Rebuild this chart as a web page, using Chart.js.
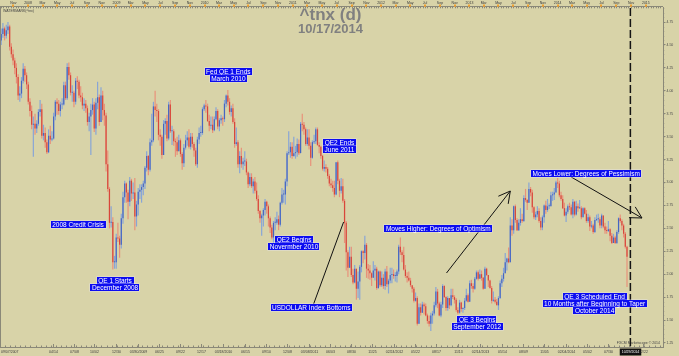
<!DOCTYPE html>
<html><head><meta charset="utf-8">
<script src="https://cdn.jsdelivr.net/npm/chart.js@4.4.1/dist/chart.umd.min.js"></script>
<style>html,body{margin:0;padding:0;background:#d8d3a8;}canvas{display:block}</style>
</head><body>
<canvas id="c" width="679" height="356"></canvas>
<script>
// ---- weekly candles (week ending Friday) ----
const firstWeekEnding = '2007-09-07';
const weekOpen = [
4.50,4.55,4.62,4.68,4.60,4.66,4.70,4.48,4.40,4.33,4.25,4.15,3.95,3.97,4.11,4.24,4.17,
4.07,3.88,3.78,3.63,3.64,3.59,3.64,3.77,3.80,3.51,3.54,3.44,3.33,3.51,3.47,3.48,3.72,3.88,3.86,3.78,3.85,3.85,4.06,3.92,4.26,4.17,3.98,3.98,3.88,4.11,4.10,3.95,3.93,3.84,3.86,3.81,3.66,3.72,3.79,3.85,3.59,3.87,3.93,3.66,3.95,3.79,3.73,3.20,2.93,2.56,2.57,2.13,
2.13,2.40,2.39,2.32,2.61,2.84,2.99,2.89,2.79,3.02,2.88,2.89,2.63,2.76,2.90,2.92,2.95,2.99,3.16,3.29,3.14,3.44,3.46,3.83,3.79,3.78,3.52,3.50,3.30,3.64,3.67,3.48,3.85,3.56,3.56,3.45,3.44,3.34,3.46,3.31,3.21,3.38,3.46,3.49,3.39,3.50,3.42,3.35,3.20,3.47,3.54,3.54,
3.80,3.84,3.83,3.67,3.62,3.63,3.57,3.69,3.78,3.61,3.68,3.70,3.69,3.86,3.95,3.88,3.77,3.81,3.66,3.42,3.44,3.20,3.29,3.20,3.23,3.23,3.11,2.98,3.06,2.96,3.01,2.91,2.82,2.69,2.61,2.64,2.70,2.79,2.74,2.61,2.51,2.40,2.56,2.56,2.60,2.54,2.78,2.87,2.87,3.01,3.32,3.33,3.39,
3.29,3.32,3.33,3.42,3.32,3.64,3.63,3.58,3.42,3.49,3.40,3.27,3.44,3.45,3.58,3.41,3.39,3.29,3.15,3.17,3.15,3.07,2.99,2.97,2.94,2.87,3.22,3.02,2.91,2.96,2.80,2.56,2.24,2.07,2.19,1.99,1.91,2.06,1.84,1.92,2.08,2.25,2.23,2.32,2.06,2.04,2.01,1.96,2.04,2.06,1.85,2.03,
1.88,1.96,1.87,2.03,1.89,1.93,1.99,2.00,1.98,1.98,2.03,2.30,2.24,2.21,2.05,1.98,1.96,1.93,1.88,1.84,1.71,1.74,1.46,1.64,1.58,1.67,1.65,1.55,1.49,1.46,1.55,1.57,1.66,1.81,1.68,1.55,1.67,1.87,1.75,1.63,1.74,1.66,1.77,1.75,1.72,1.61,1.58,1.69,1.62,1.63,1.71,1.77,
1.70,1.90,1.87,1.84,1.95,2.02,1.95,2.00,1.96,1.84,2.06,1.99,1.93,1.85,1.71,1.72,1.70,1.66,1.74,1.90,1.95,2.01,2.13,2.17,2.13,2.53,2.48,2.74,2.59,2.48,2.56,2.60,2.58,2.83,2.81,2.78,2.93,2.89,2.73,2.62,2.65,2.69,2.58,2.51,2.62,2.75,2.70,2.74,2.74,2.86,2.87,2.89,
3.00,2.99,2.86,2.82,2.72,2.64,2.68,2.74,2.73,2.65,2.79,2.65,2.74,2.72,2.72,2.62,2.72,2.66,2.58,2.62,2.52,2.53,2.46,2.59,2.60,2.60,2.53,2.64,2.52,2.48,2.47,2.49,2.42,2.34,2.40,2.34,2.46,2.61,2.58,2.53,2.44,2.30];
const weekHigh = [
4.72,4.68,4.74,4.70,4.72,4.75,4.72,4.52,4.45,4.36,4.30,4.18,4.05,4.15,4.30,4.27,4.20,
4.10,3.92,3.84,3.72,3.75,3.68,3.80,3.90,3.86,3.63,3.60,3.47,3.58,3.62,3.56,3.76,3.90,3.92,3.90,3.88,3.92,4.10,4.10,4.30,4.31,4.20,4.06,4.00,4.14,4.16,4.12,4.05,3.98,3.92,3.90,3.84,3.76,3.86,3.92,3.88,3.92,4.10,3.96,4.04,4.00,3.86,3.76,3.35,2.95,2.74,2.62,2.20,
2.44,2.56,2.42,2.66,2.90,3.02,3.00,2.92,3.06,3.04,3.00,3.05,2.80,2.94,2.98,2.98,3.02,3.18,3.34,3.30,3.48,3.75,3.88,4.00,3.86,3.80,3.58,3.52,3.68,3.70,3.74,3.88,3.90,3.62,3.58,3.48,3.50,3.52,3.48,3.33,3.42,3.52,3.56,3.58,3.54,3.54,3.44,3.38,3.50,3.60,3.62,3.82,
3.86,3.90,3.86,3.74,3.72,3.72,3.72,3.82,3.80,3.70,3.74,3.72,3.90,3.96,4.01,3.92,3.84,3.86,3.70,3.60,3.46,3.34,3.38,3.27,3.34,3.26,3.12,3.10,3.10,3.04,3.06,3.00,2.86,2.70,2.66,2.72,2.82,2.80,2.76,2.63,2.54,2.58,2.62,2.68,2.64,2.79,2.94,2.92,3.04,3.34,3.56,3.44,3.44,
3.50,3.40,3.48,3.47,3.66,3.75,3.66,3.60,3.58,3.58,3.44,3.46,3.52,3.60,3.60,3.44,3.40,3.30,3.24,3.20,3.17,3.09,3.04,3.02,3.02,3.22,3.24,3.04,3.05,3.04,2.82,2.58,2.26,2.30,2.30,2.06,2.10,2.06,2.03,2.10,2.26,2.26,2.42,2.34,2.11,2.10,2.02,2.14,2.10,2.08,2.04,2.04,
2.03,2.00,2.06,2.09,1.95,2.07,2.07,2.05,2.02,2.05,2.32,2.40,2.26,2.30,2.10,2.02,2.03,1.96,1.88,1.86,1.80,1.76,1.68,1.68,1.70,1.69,1.68,1.57,1.55,1.58,1.60,1.70,1.86,1.84,1.70,1.70,1.89,1.88,1.76,1.76,1.74,1.84,1.84,1.77,1.74,1.64,1.72,1.70,1.64,1.74,1.84,1.79,
1.93,1.94,1.90,1.97,2.04,2.04,2.05,2.04,1.97,2.08,2.07,1.99,1.94,1.87,1.81,1.75,1.73,1.76,1.93,1.99,2.07,2.23,2.18,2.29,2.62,2.60,2.75,2.76,2.61,2.60,2.72,2.66,2.86,2.93,2.82,3.00,2.95,2.92,2.74,2.68,2.74,2.72,2.62,2.64,2.76,2.80,2.82,2.77,2.90,2.90,2.94,3.02,
3.05,3.02,2.90,2.86,2.78,2.72,2.76,2.78,2.76,2.82,2.80,2.80,2.77,2.81,2.74,2.73,2.73,2.70,2.66,2.64,2.58,2.55,2.62,2.65,2.66,2.62,2.66,2.64,2.56,2.52,2.58,2.50,2.45,2.44,2.42,2.48,2.62,2.65,2.60,2.55,2.46,2.31];
const weekLow = [
4.45,4.50,4.58,4.55,4.57,4.62,4.44,4.36,4.28,4.18,4.08,3.90,3.88,3.92,4.08,4.10,4.02,
3.85,3.72,3.58,3.28,3.52,3.54,3.62,3.72,3.48,3.46,3.38,3.31,3.32,3.42,3.45,3.47,3.68,3.74,3.74,3.72,3.80,3.84,3.90,3.90,4.12,3.95,3.88,3.82,3.85,4.02,3.92,3.88,3.80,3.78,3.76,3.62,3.56,3.30,3.74,3.55,3.52,3.80,3.62,3.66,3.68,3.62,3.12,2.90,2.50,2.51,2.05,2.06,
2.06,2.35,2.18,2.28,2.55,2.78,2.78,2.60,2.74,2.80,2.82,2.48,2.52,2.64,2.82,2.78,2.86,2.93,3.12,3.08,3.12,3.40,3.44,3.72,3.66,3.46,3.40,3.26,3.30,3.52,3.45,3.46,3.54,3.41,3.40,3.28,3.30,3.34,3.28,3.14,3.17,3.36,3.40,3.37,3.36,3.38,3.28,3.18,3.16,3.42,3.50,3.52,
3.78,3.76,3.66,3.56,3.58,3.54,3.56,3.68,3.58,3.56,3.64,3.62,3.66,3.82,3.84,3.74,3.72,3.64,3.38,3.40,3.16,3.10,3.16,3.14,3.18,3.08,2.94,2.96,2.94,2.88,2.88,2.80,2.66,2.56,2.42,2.52,2.64,2.66,2.52,2.45,2.38,2.34,2.48,2.54,2.48,2.52,2.76,2.78,2.76,2.96,3.30,3.27,3.26,
3.28,3.26,3.28,3.30,3.32,3.56,3.52,3.40,3.40,3.36,3.18,3.26,3.42,3.42,3.40,3.32,3.26,3.13,3.12,3.11,3.04,2.96,2.94,2.90,2.84,2.86,2.98,2.84,2.88,2.78,2.34,2.04,1.97,2.07,1.97,1.89,1.90,1.72,1.74,1.72,2.02,2.12,2.16,1.96,1.95,1.94,1.87,1.96,1.93,1.83,1.84,1.86,
1.86,1.84,1.83,1.86,1.79,1.90,1.90,1.95,1.92,1.91,2.00,2.21,2.13,2.04,1.96,1.91,1.92,1.86,1.80,1.69,1.70,1.44,1.46,1.55,1.58,1.56,1.54,1.46,1.43,1.38,1.46,1.55,1.64,1.63,1.54,1.53,1.63,1.74,1.60,1.60,1.62,1.65,1.73,1.68,1.59,1.56,1.57,1.59,1.58,1.61,1.70,1.69,
1.70,1.84,1.80,1.83,1.94,1.93,1.95,1.93,1.83,1.84,1.98,1.86,1.84,1.68,1.70,1.68,1.66,1.61,1.73,1.86,1.92,2.01,2.04,2.12,2.13,2.42,2.44,2.56,2.47,2.47,2.53,2.56,2.57,2.79,2.70,2.78,2.85,2.67,2.60,2.59,2.62,2.56,2.48,2.48,2.56,2.66,2.68,2.71,2.74,2.80,2.81,2.89,
2.94,2.84,2.80,2.71,2.63,2.57,2.66,2.70,2.64,2.61,2.63,2.64,2.68,2.71,2.60,2.62,2.65,2.56,2.56,2.47,2.50,2.44,2.45,2.58,2.56,2.50,2.50,2.50,2.44,2.44,2.46,2.36,2.33,2.34,2.33,2.33,2.44,2.56,2.48,2.40,2.28,1.86];
const weekClose = [
4.55,4.62,4.68,4.60,4.66,4.70,4.48,4.40,4.33,4.25,4.15,3.95,3.97,4.11,4.24,4.17,4.07,
3.88,3.78,3.63,3.64,3.59,3.64,3.77,3.80,3.51,3.54,3.44,3.33,3.51,3.47,3.48,3.72,3.88,3.86,3.78,3.85,3.85,4.06,3.92,4.26,4.17,3.98,3.98,3.88,4.11,4.10,3.95,3.93,3.84,3.86,3.81,3.66,3.72,3.79,3.85,3.59,3.87,3.93,3.66,3.95,3.79,3.73,3.20,2.93,2.56,2.57,2.13,2.13,
2.40,2.39,2.32,2.61,2.84,2.99,2.89,2.79,3.02,2.88,2.89,2.63,2.76,2.90,2.92,2.95,2.99,3.16,3.29,3.14,3.44,3.46,3.83,3.79,3.78,3.52,3.50,3.30,3.64,3.67,3.48,3.85,3.56,3.56,3.45,3.44,3.34,3.46,3.31,3.21,3.38,3.46,3.49,3.39,3.50,3.42,3.35,3.20,3.47,3.54,3.54,3.80,
3.84,3.83,3.67,3.62,3.63,3.57,3.69,3.78,3.61,3.68,3.70,3.69,3.86,3.95,3.88,3.77,3.81,3.66,3.42,3.44,3.20,3.29,3.20,3.23,3.23,3.11,2.98,3.06,2.96,3.01,2.91,2.82,2.69,2.61,2.64,2.70,2.79,2.74,2.61,2.51,2.40,2.56,2.56,2.60,2.54,2.78,2.87,2.87,3.01,3.32,3.33,3.39,3.29,
3.32,3.33,3.42,3.32,3.64,3.63,3.58,3.42,3.49,3.40,3.27,3.44,3.45,3.58,3.41,3.39,3.29,3.15,3.17,3.15,3.07,2.99,2.97,2.94,2.87,3.22,3.02,2.91,2.96,2.80,2.56,2.24,2.07,2.19,1.99,1.91,2.06,1.84,1.92,2.08,2.25,2.23,2.32,2.06,2.04,2.01,1.96,2.04,2.06,1.85,2.03,1.88,
1.96,1.87,2.03,1.89,1.93,1.99,2.00,1.98,1.98,2.03,2.30,2.24,2.21,2.05,1.98,1.96,1.93,1.88,1.84,1.71,1.74,1.46,1.64,1.58,1.67,1.65,1.55,1.49,1.46,1.55,1.57,1.66,1.81,1.68,1.55,1.67,1.87,1.75,1.63,1.74,1.66,1.77,1.75,1.72,1.61,1.58,1.69,1.62,1.63,1.71,1.77,1.70,
1.90,1.87,1.84,1.95,2.02,1.95,2.00,1.96,1.84,2.06,1.99,1.93,1.85,1.71,1.72,1.70,1.66,1.74,1.90,1.95,2.01,2.13,2.17,2.13,2.53,2.48,2.74,2.59,2.48,2.56,2.60,2.58,2.83,2.81,2.78,2.93,2.89,2.73,2.62,2.65,2.69,2.58,2.51,2.62,2.75,2.70,2.74,2.74,2.86,2.87,2.89,3.00,
2.99,2.86,2.82,2.72,2.64,2.68,2.74,2.73,2.65,2.79,2.65,2.74,2.72,2.72,2.62,2.72,2.66,2.58,2.62,2.52,2.53,2.46,2.59,2.60,2.60,2.53,2.64,2.52,2.48,2.47,2.49,2.42,2.34,2.40,2.34,2.46,2.61,2.58,2.53,2.44,2.30,2.19];

// ---- axes ----
const xStartDate = '2007-09-07';
const xEndDate = '2015-03-13';
const yMin = 1.206, yMax = 4.914;
const yTickValues = [1.25,1.5,1.75,2,2.25,2.5,2.75,3,3.25,3.5,3.75,4,4.25,4.5,4.75];
const bottomLabelDates = ['2007-09-07','2008-04-14','2008-07-08','2008-10-02','2008-12-30','2009-03-30','2009-06-25','2009-09-22','2009-12-17','2010-03-18','2010-06-15','2010-09-10','2010-12-08','2011-03-08','2011-06-03','2011-08-30','2011-11-25','2012-02-24','2012-05-22','2012-08-17','2012-11-13','2013-02-14','2013-05-14','2013-08-09','2013-11-05','2014-02-04','2014-05-02','2014-07-30','2014-10-29','2014-12-22'];
const bottomLabelText = ['09/07/2007','04/14','07/08','10/02','12/30','03/30/2009','06/25','09/22','12/17','03/18/2010','06/15','09/10','12/08','03/08/2011','06/03','08/30','11/25','02/24/2012','05/22','08/17','11/13','02/14/2013','05/14','08/09','11/05','02/04/2014','05/02','07/30','10/29/2014','12/22'];
const topLabelStart = [2007, 11];
const topLabelText = ['Nov','2008','Mar','May','Jul','Sep','Nov','2009','Mar','May','Jul','Sep','Nov','2010','Mar','May','Jul','Sep','Nov','2011','Mar','May','Jul','Sep','Nov','2012','Mar','May','Jul','Sep','Nov','2013','Mar','May','Jul','Sep','Nov','2014','Mar','May','Jul','Sep','Nov','2015'];
const markerDate = '2014-10-29';

// ---- annotations (anchor = centre date, top value) ----
const notes = [
  {date:'2010-04-09', value:4.25,  lines:['Fed QE 1 Ends','March 2010']},
  {date:'2011-07-13', value:3.474, lines:['QE2 Ends','June 2011']},
  {date:'2008-07-26', value:2.58,  lines:['2008 Credit Crisis']},
  {date:'2008-12-26', value:1.969, lines:['QE 1 Starts','December 2008']},
  {date:'2011-01-06', value:2.416, lines:['QE2 Begins','Novermber 2010']},
  {date:'2011-03-18', value:1.675, lines:['USDOLLAR Index Bottoms']},
  {date:'2012-08-25', value:2.536, lines:['Moves Higher: Degrees of Optimism']},
  {date:'2013-02-02', value:1.544, lines:['QE 3 Begins','September 2012']},
  {date:'2014-04-29', value:3.136, lines:['Moves Lower: Degrees of Pessimism']},
  {date:'2014-06-03', value:1.795, lines:['QE 3 Scheduled End','10 Months after Beginning to Taper','October 2014']}
];
const arrows = [
  {from:['2011-03-28',1.675], to:['2011-07-30',2.569], head:false},
  {from:['2012-09-28',2.013], to:['2013-06-19',2.907], head:true},
  {from:['2014-02-26',3.060], to:['2014-12-16',2.613], head:true}
];

const DAY = 86400000;
const dayOf = s => { const p = s.split('-').map(Number); return Date.UTC(p[0], p[1]-1, p[2]) / DAY; };
const BG = '#d8d3a8', AXIS = '#8a8878', TXT = '#3a3a3a';
const AXFONT = '3.5px "Liberation Sans"';

const start = dayOf(firstWeekEnding);
const candleX = weekClose.map((_, i) => start + 7 * i - 2);
const up = weekClose.map((c, i) => c >= weekOpen[i]);
const wickData = candleX.map((x, i) => ({x, y: [weekLow[i], weekHigh[i]]}));
const bodyData = candleX.map((x, i) => ({x, y: [weekOpen[i], weekClose[i]]}));

const deco = {
  id: 'deco',
  beforeDraw(chart) {
    const c = chart.ctx; c.save(); c.fillStyle = BG; c.fillRect(0, 0, chart.width, chart.height); c.restore();
  },
  afterDraw(chart) {
    const c = chart.ctx, a = chart.chartArea, xs = chart.scales.x, ys = chart.scales.y;
    const X = d => xs.getPixelForValue(typeof d === 'string' ? dayOf(d) : d);
    const Y = v => ys.getPixelForValue(v);
    const seg = (x1, y1, x2, y2) => { c.beginPath(); c.moveTo(x1, y1); c.lineTo(x2, y2); c.stroke(); };
    c.save();
    c.strokeStyle = AXIS; c.lineWidth = 1;
    seg(a.left + 0.5, a.top, a.left + 0.5, a.bottom);
    seg(a.left, a.bottom + 0.5, a.right, a.bottom + 0.5);
    seg(a.left, a.top - 0.5, a.right, a.top - 0.5);
    const d0 = dayOf(bottomLabelDates[0]);
    for (let d = d0; d < xs.max; d += 21) { const px = Math.round(X(d)) + 0.5; seg(px, a.bottom, px, a.bottom - 1.5); }
    c.font = AXFONT; c.textBaseline = 'alphabetic';
    bottomLabelDates.forEach((d, i) => {
      const px = Math.round(X(d)) + 0.5;
      seg(px, a.bottom, px, a.bottom - 3);
      const t = bottomLabelText[i];
      const w = c.measureText(t).width;
      let tx = i === 0 ? a.left + 1 : px - w / 2;
      if (d === markerDate) {
        c.fillStyle = '#111'; c.fillRect(tx - 2, a.bottom + 1.5, w + 4, 7);
        c.fillStyle = '#fff';
      } else c.fillStyle = TXT;
      c.fillText(t, tx, a.bottom + 6.3);
    });
    let yy = topLabelStart[0], mm = topLabelStart[1];
    for (let y = 2007; y <= 2015; y++) for (let m = 1; m <= 12; m++) for (const dd of [1, 11, 21]) {
      const px = Math.round(X(Date.UTC(y, m - 1, dd) / DAY)) + 0.5;
      if (px > a.left && px < a.right) seg(px, a.top, px, a.top + 1.3);
    }
    topLabelText.forEach((t) => {
      const px = X(Date.UTC(yy, mm - 1, 1) / DAY);
      c.fillStyle = '#f0a030'; c.fillRect(Math.round(px) - 1, 4.5, 2, 2.2);
      c.fillStyle = TXT; c.textAlign = 'center'; c.fillText(t, px, 4.2);
      mm += 2; if (mm > 12) { mm -= 12; yy += 1; }
    });
    c.textAlign = 'left';
    for (let v = 1.25; v <= 4.90; v += 0.05) { const py = Math.round(Y(v)) + 0.5; seg(a.right, py, a.right + 1.2, py); }
    c.fillStyle = '#444'; c.font = AXFONT;
    c.fillText('WATERMARK(^tnx)', 3, 11.7);
    c.textAlign = 'right'; c.fillText('FXCM Marketscope \u00a9 2014', 660, 344.3); c.textAlign = 'left';
    c.strokeStyle = '#151515'; c.lineWidth = 1.5; c.setLineDash([8, 3]);
    const mx = X(markerDate);
    seg(mx, a.top + 1, mx, a.bottom);
    c.setLineDash([]);
    c.strokeStyle = '#111'; c.lineWidth = 1;
    arrows.forEach(ar => {
      const x1 = X(ar.from[0]), y1 = Y(ar.from[1]), x2 = X(ar.to[0]), y2 = Y(ar.to[1]);
      seg(x1, y1, x2, y2);
      if (ar.head) {
        const ang = Math.atan2(y2 - y1, x2 - x1) + Math.PI, L = 13, s = 0.5;
        seg(x2, y2, x2 + L * Math.cos(ang - s), y2 + L * Math.sin(ang - s));
        seg(x2, y2, x2 + L * Math.cos(ang + s), y2 + L * Math.sin(ang + s));
      }
    });
    c.font = '6.5px "Liberation Sans"'; c.textAlign = 'center'; c.textBaseline = 'middle';
    notes.forEach(n => {
      const cx = X(n.date); let ty = Y(n.value);
      n.lines.forEach(t => {
        const w = c.measureText(t).width + 3;
        c.fillStyle = '#0c0cf0'; c.fillRect(Math.round(cx - w / 2), Math.round(ty), Math.round(w), 7);
        c.strokeStyle = 'rgba(235,235,255,0.55)'; c.lineWidth = 0.6;
        c.strokeRect(Math.round(cx - w / 2) - 0.3, Math.round(ty) - 0.3, Math.round(w) + 0.6, 7.6);
        c.fillStyle = '#ffffff'; c.fillText(t, cx, Math.round(ty) + 3.8);
        ty += 7;
      });
    });
    c.textBaseline = 'alphabetic'; c.fillStyle = '#808080';
    c.font = 'bold 17px "Liberation Sans"'; c.fillText('^tnx (d)', 330.5, 20);
    c.font = 'bold 13px "Liberation Sans"'; c.fillText('10/17/2014', 330.5, 33.3);
    c.restore();
  }
};

new Chart(document.getElementById('c'), {
  type: 'bar',
  data: { datasets: [
    { label: 'range', data: wickData, grouped: false, categoryPercentage: 1, barPercentage: 0.7, borderWidth: 0, order: 2,
      backgroundColor: up.map(u => u ? 'rgb(135,165,215)' : 'rgb(232,145,122)') },
    { label: 'body', data: bodyData, grouped: false, categoryPercentage: 1, barPercentage: 0.7, borderWidth: 0, minBarLength: 1, order: 1,
      backgroundColor: up.map(u => u ? '#4565c2' : '#d8463a') }
  ]},
  options: {
    responsive: false, animation: false, devicePixelRatio: 1,
    layout: { padding: 0 },
    plugins: { legend: { display: false }, tooltip: { enabled: false } },
    scales: {
      x: { type: 'linear', position: 'bottom', min: dayOf(xStartDate), max: dayOf(xEndDate), offset: false,
           grid: { display: false }, ticks: { display: false }, border: { display: false },
           afterFit(s) { s.height = 9; } },
      xTop: { type: 'linear', axis: 'x', position: 'top', min: dayOf(xStartDate), max: dayOf(xEndDate), offset: false,
           grid: { display: false }, ticks: { display: false }, border: { display: false },
           afterFit(s) { s.height = 7; } },
      y: { position: 'right', min: yMin, max: yMax,
           afterBuildTicks(s) { s.ticks = yTickValues.map(v => ({ value: v })); },
           ticks: { autoSkip: false, padding: 1, color: '#4a4a4a', font: { size: 3.5, family: 'Liberation Sans' }, callback: v => Number(v).toFixed(2) },
           grid: { drawOnChartArea: false, tickLength: 2.5, color: AXIS },
           border: { color: AXIS },
           afterFit(s) { s.width = 16; } }
    }
  },
  plugins: [deco]
});
</script>
</body></html>
